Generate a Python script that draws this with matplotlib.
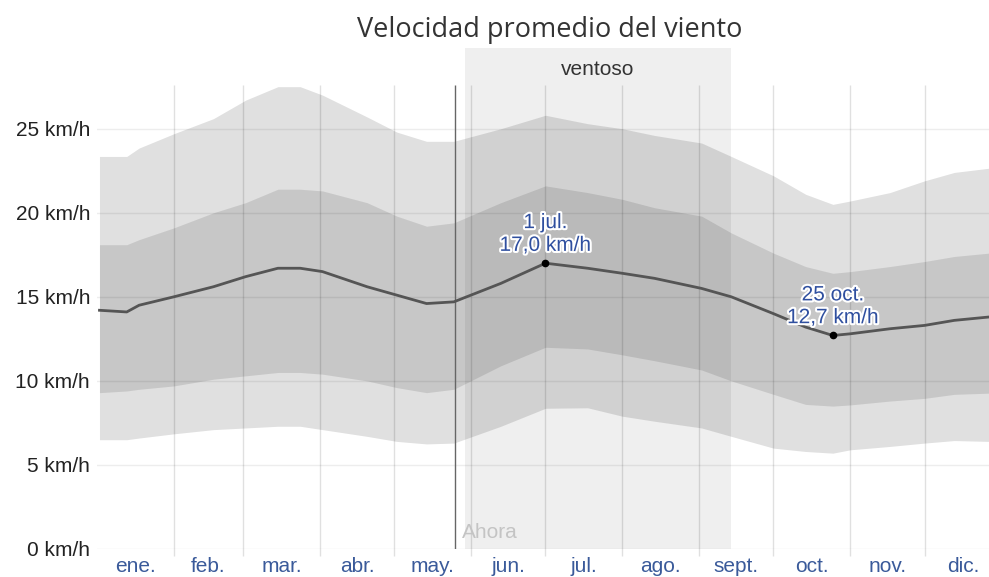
import matplotlib
matplotlib.use("Agg")
import matplotlib.pyplot as plt
import matplotlib.patheffects as pe

plt.rcParams['font.family'] = ['Liberation Sans', 'DejaVu Sans']

# day of year for each reading
days = [1, 12, 17, 31, 47, 60, 73, 82, 91, 109, 121, 133, 144, 163, 181, 198,
        212, 225, 244, 256, 273, 286, 297, 304, 320, 334, 346, 360]
# 90th / 75th / median / 25th / 10th percentile, km/h
p90 = [23.35, 23.35, 23.85, 24.7, 25.6, 26.7, 27.5, 27.5, 27.0, 25.7, 24.8, 24.25, 24.25, 25.0,
       25.8, 25.3, 25.0, 24.6, 24.15, 23.35, 22.2, 21.1, 20.5, 20.7, 21.2, 21.9, 22.4, 22.65]
p75 = [18.1, 18.1, 18.4, 19.1, 20.0, 20.6, 21.4, 21.4, 21.3, 20.6, 19.8, 19.2, 19.4, 20.6,
       21.6, 21.2, 20.8, 20.3, 19.8, 18.8, 17.6, 16.8, 16.4, 16.5, 16.8, 17.1, 17.4, 17.6]
median = [14.2, 14.1, 14.5, 15.0, 15.6, 16.2, 16.7, 16.7, 16.5, 15.6, 15.1, 14.6, 14.7, 15.8,
          17.0, 16.7, 16.4, 16.1, 15.5, 15.0, 14.0, 13.2, 12.7, 12.8, 13.1, 13.3, 13.6, 13.8]
p25 = [9.3, 9.4, 9.5, 9.7, 10.1, 10.3, 10.5, 10.5, 10.4, 10.0, 9.6, 9.3, 9.5, 10.9,
       12.0, 11.9, 11.55, 11.2, 10.65, 10.0, 9.2, 8.6, 8.5, 8.57, 8.8, 8.96, 9.2, 9.27]
p10 = [6.5, 6.5, 6.6, 6.85, 7.1, 7.2, 7.3, 7.3, 7.1, 6.7, 6.4, 6.25, 6.3, 7.3,
       8.37, 8.4, 7.9, 7.6, 7.2, 6.7, 6.0, 5.8, 5.7, 5.9, 6.1, 6.3, 6.45, 6.4]

months = ["ene.", "feb.", "mar.", "abr.", "may.", "jun.", "jul.", "ago.", "sept.", "oct.", "nov.", "dic."]
month_start = [0, 31, 59, 90, 120, 151, 181, 212, 243, 273, 304, 334, 365]
yticks = [0, 5, 10, 15, 20, 25]

now_day = 144.4
windy = (148.4, 255.7)
peaks = [(181, 17.0, "1 jul.\n17,0 km/h"), (297, 12.7, "25 oct.\n12,7 km/h")]

W, H = 989, 577
fig = plt.figure(figsize=(W / 100, H / 100), dpi=100)
ax = fig.add_axes([97 / W, 28 / H, 1 - 97 / W, (549 - 85) / H])
ymax = 27.6
ax.set_xlim(0, 360)
ax.set_ylim(0, ymax)

# windy season shading, sticking out above the plot
top = (549 - 48) / (549 - 85)
ax.axvspan(windy[0], windy[1], ymin=0, ymax=top, color="#efefef", zorder=0, clip_on=False, lw=0)
ax.text(sum(windy) / 2, (549 - 70) / 16.8, "ventoso", ha="center", va="center",
        fontsize=15, color="#333333")

ax.fill_between(days, p10, p90, color="black", alpha=0.12, lw=0, zorder=1)
ax.fill_between(days, p25, p75, color="black", alpha=0.11, lw=0, zorder=1)

for y in yticks:
    ax.axhline(y, color="black", alpha=0.07, lw=1, zorder=2)
ax.vlines(month_start[1:-1], -0.4, ymax, color="black", alpha=0.12, lw=1, zorder=2, clip_on=False)
ax.vlines([now_day], 0, ymax, color="#666666", lw=1, zorder=2)
ax.text(now_day + 3, 1.0, "Ahora", ha="left", va="center", fontsize=15, color="#c4c4c4")

ax.plot(days, median, color="#555555", lw=2, zorder=3)

for d, v, label in peaks:
    ax.plot(d, v, "o", color="black", ms=4.5, zorder=4)
    ax.annotate(label, (d, v), xytext=(0, 6), textcoords="offset points", ha="center", va="bottom",
                fontsize=15, color="#2f4f9f", linespacing=1.25, zorder=5,
                path_effects=[pe.withStroke(linewidth=3, foreground="white")])

ax.set_yticks(yticks)
ax.set_yticklabels([f"{y} km/h" for y in yticks], fontsize=15, color="#222222")
ax.set_xticks([(a + b) / 2 for a, b in zip(month_start[:-1], month_start[1:])])
ax.set_xticklabels(months, fontsize=15, color="#3a5a9a")
ax.tick_params(length=0)
ax.tick_params(axis="y", pad=5)
ax.tick_params(axis="x", pad=6)
for s in ax.spines.values():
    s.set_visible(False)

fig.text(550 / W, 1 - 30 / H, "Velocidad promedio del viento", ha="center", va="center",
         fontsize=19.5, color="#333333", family=["Open Sans", "DejaVu Sans"])

fig.savefig("out.png", dpi=100)
